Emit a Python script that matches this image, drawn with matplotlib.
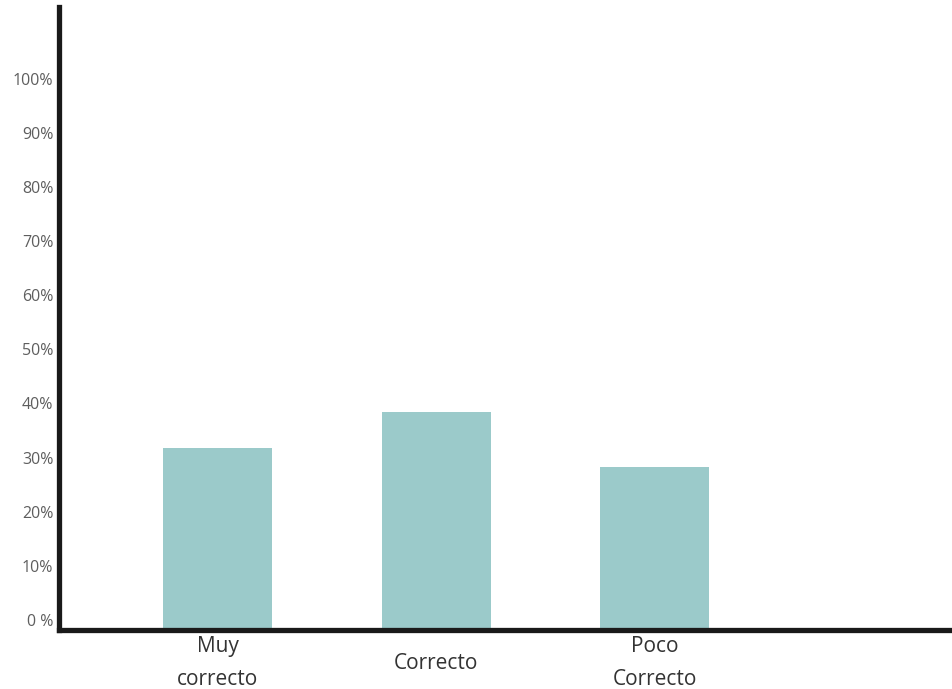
import matplotlib
matplotlib.use("Agg")
import matplotlib.pyplot as plt

# data
categories = ["Muy\ncorrecto", "Correcto", "Poco\nCorrecto"]
values = [31.7, 38.4, 28.2]  # percent
tick_values = [0, 10, 20, 30, 40, 50, 60, 70, 80, 90, 100]
tick_labels = ["0 %", "10%", "20%", "30%", "40%", "50%", "60%", "70%", "80%", "90%", "100%"]

plt.rcParams["font.family"] = ["Open Sans", "DejaVu Sans"]

fig = plt.figure(figsize=(9.53, 6.89), dpi=100)
ax = fig.add_axes([0.0624, 0.0856, 0.9376, 0.9042])

ymin, ymax = -1.9, 113.3
x = list(range(len(categories)))
# bars sit on the axis floor
ax.bar(x, [v - ymin for v in values], bottom=ymin, width=0.497,
       color="#9bcaca", edgecolor="none")

ax.set_ylim(ymin, ymax)
ax.set_xlim(-0.724, 3.365)

ax.set_yticks(tick_values)
ax.set_yticklabels(tick_labels, fontsize=11.5, color="#5e5e5e")
ax.set_xticks(x)
ax.set_xticklabels(categories, fontsize=15, color="#333333",
                   linespacing=1.75, va="center")
ax.tick_params(axis="both", length=0)
ax.tick_params(axis="y", pad=4.5)
ax.tick_params(axis="x", pad=24)

for side in ("top", "right"):
    ax.spines[side].set_visible(False)
for side in ("left", "bottom"):
    ax.spines[side].set_linewidth(3.8)
    ax.spines[side].set_color("#1a1a1a")
    ax.spines[side].set_capstyle("projecting")

fig.savefig("out.png", dpi=100)
